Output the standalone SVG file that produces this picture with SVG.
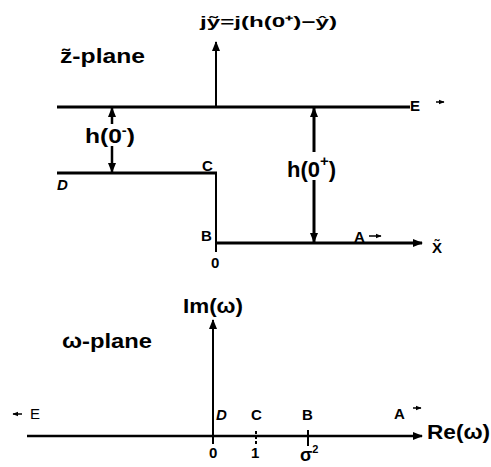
<svg xmlns="http://www.w3.org/2000/svg" width="491" height="467" viewBox="0 0 491 467">
<defs>
<marker id="ah" viewBox="0 0 10 10" refX="9" refY="5" markerWidth="10" markerHeight="10" markerUnits="userSpaceOnUse" orient="auto-start-reverse">
<path d="M0,1 L10,5 L0,9 Z" fill="#000"/>
</marker>
<marker id="sm" viewBox="0 0 10 10" refX="9" refY="5" markerWidth="6" markerHeight="6" markerUnits="userSpaceOnUse" orient="auto-start-reverse">
<path d="M0,1 L10,5 L0,9 Z" fill="#000"/>
</marker>
</defs>
<style>
text{font-family:"Liberation Sans",Arial,sans-serif;fill:#000;font-weight:bold}
.ln{stroke:#000;fill:none;stroke-linecap:butt}
</style>
<rect width="491" height="467" fill="#fff"/>
<g id="connectors">
<line class="ln" x1="57" y1="107" x2="410" y2="107" stroke-width="3"/>
<line class="ln" x1="216" y1="107" x2="216" y2="42" stroke-width="2" marker-end="url(#ah)"/>
<line class="ln" x1="57" y1="173" x2="217" y2="173" stroke-width="3"/>
<line class="ln" x1="216" y1="172" x2="216" y2="252" stroke-width="2"/>
<line class="ln" x1="216" y1="243" x2="422" y2="243" stroke-width="3" marker-end="url(#ah)"/>
<line class="ln" x1="112" y1="124" x2="112" y2="108" stroke-width="2.5" marker-end="url(#ah)"/>
<line class="ln" x1="112" y1="146" x2="112" y2="172" stroke-width="2.5" marker-end="url(#ah)"/>
<line class="ln" x1="314" y1="152" x2="314" y2="108" stroke-width="3" marker-end="url(#ah)"/>
<line class="ln" x1="314" y1="180" x2="314" y2="242" stroke-width="3" marker-end="url(#ah)"/>
<line class="ln" x1="369" y1="236" x2="381" y2="236" stroke-width="1.5" marker-end="url(#sm)"/>
<line class="ln" x1="436" y1="102" x2="444" y2="102" stroke-width="1.5" marker-end="url(#sm)"/>
<line class="ln" x1="213" y1="444" x2="213" y2="320" stroke-width="2" marker-end="url(#ah)"/>
<line class="ln" x1="27" y1="436" x2="422" y2="436" stroke-width="2.5" marker-end="url(#ah)"/>
<line class="ln" x1="256" y1="431" x2="256" y2="445" stroke-width="2" stroke-dasharray="3,2"/>
<line class="ln" x1="308" y1="430" x2="308" y2="446" stroke-width="2"/>
<line class="ln" x1="22" y1="414" x2="13" y2="414" stroke-width="1.5" marker-end="url(#sm)"/>
<line class="ln" x1="413" y1="408" x2="421" y2="408" stroke-width="1.5" marker-end="url(#sm)"/>
</g>
<g id="zplane">
<text x="200" y="27" style="font-size:15px" textLength="137" lengthAdjust="spacingAndGlyphs">jỹ=j(h(0⁺)−ŷ)</text>
<text x="60" y="63" style="font-size:21px;font-weight:900" textLength="85" lengthAdjust="spacingAndGlyphs">z̃-plane</text>
</g>
<g id="nodeE"><text x="410" y="111" style="font-size:15px">E</text></g>
<g id="h0minus"><rect x="85" y="125" width="52" height="20" fill="#fff"/><text x="85" y="143" style="font-size:20px" textLength="50" lengthAdjust="spacingAndGlyphs">h(0<tspan style="font-size:12px" dy="-8">-</tspan><tspan dy="8">)</tspan></text></g>
<g id="nodeD"><text x="57" y="190" style="font-size:15px;font-style:italic">D</text></g>
<g id="nodeC"><text x="202" y="171" style="font-size:15px">C</text></g>
<g id="nodeB"><text x="201" y="241" style="font-size:15px">B</text></g>
<g id="origin"><text x="211" y="268" style="font-size:15px">0</text></g>
<g id="h0plus"><rect x="287" y="153" width="52" height="26" fill="#fff"/><text x="287" y="177" style="font-size:22px">h(0<tspan style="font-size:15px" dy="-11">+</tspan><tspan dy="11">)</tspan></text></g>
<g id="nodeA"><text x="354" y="242" style="font-size:15px">A</text></g>
<g id="xaxis"><text x="432" y="253" style="font-size:15px">X̃</text></g>
<g id="wplane">
<text x="183" y="313" style="font-size:21px" textLength="60" lengthAdjust="spacingAndGlyphs">Im(ω)</text>
<text x="62" y="348" style="font-size:21px;font-weight:900" textLength="90" lengthAdjust="spacingAndGlyphs">ω-plane</text>
<text x="427" y="439" style="font-size:20px" textLength="63" lengthAdjust="spacingAndGlyphs">Re(ω)</text>
</g>
<g id="wE"><text x="30" y="419" style="font-size:15px;font-weight:normal">E</text></g>
<g id="wD"><text x="216" y="420" style="font-size:15px;font-style:italic">D</text></g>
<g id="wC"><text x="251" y="420" style="font-size:15px">C</text></g>
<g id="wB"><text x="302" y="420" style="font-size:15px">B</text></g>
<g id="wA"><text x="394" y="419" style="font-size:15px">A</text></g>
<g id="ticks">
<text x="209" y="458" style="font-size:15px">0</text>
<text x="251" y="458" style="font-size:15px">1</text>
<text x="300" y="461" style="font-size:18px">σ<tspan style="font-size:11px" dy="-8">2</tspan></text>
</g>
</svg>
